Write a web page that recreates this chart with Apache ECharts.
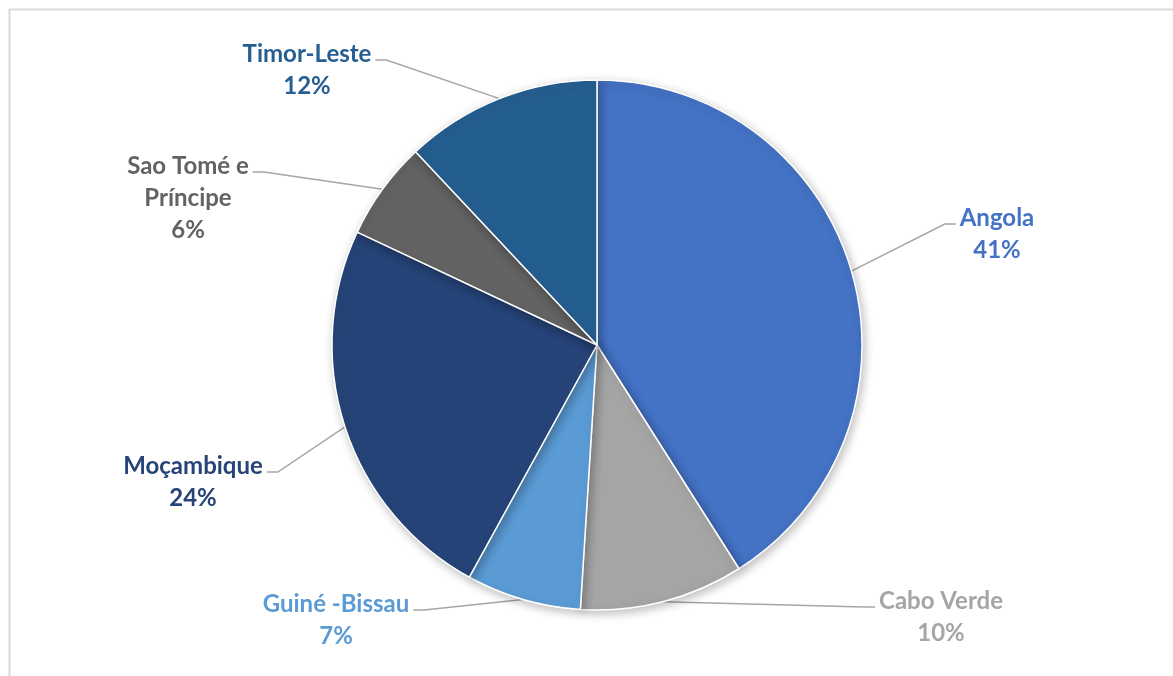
<!DOCTYPE html>
<html>
<head>
<meta charset="utf-8">
<style>
  html, body { margin: 0; padding: 0; background: #ffffff; }
  #chart { width: 1173px; height: 676px; }
</style>
<script src="https://cdn.jsdelivr.net/npm/echarts@6/dist/echarts.min.js"></script>
</head>
<body>
<div id="chart"></div>
<script>
// Share of each country (percent)
const countries = ['Angola', 'Cabo Verde', 'Guiné -Bissau', 'Moçambique', 'Sao Tomé e\nPríncipe', 'Timor-Leste'];
const shares = [41, 10, 7, 24, 6, 12];
const sliceColors = ['#4472C4', '#A5A5A5', '#5B9BD5', '#264478', '#636363', '#255E91'];

// Label block centres, one per slice
const labelSpots = [[997, 234], [941, 617], [336, 620], [193, 482], [188, 198], [307, 70]];
const PIE_CENTER = [597, 345];

const chart = echarts.init(document.getElementById('chart'), null, { renderer: 'canvas' });

chart.setOption({
  animation: false,
  backgroundColor: '#ffffff',
  graphic: [{
    type: 'rect',
    shape: { x: 9.5, y: 9.5, width: 1200, height: 700 },
    style: { fill: 'none', stroke: '#D9D9D9', lineWidth: 2 },
    silent: true
  }],
  series: [{
    type: 'pie',
    center: PIE_CENTER,
    radius: 265,
    startAngle: 90,
    clockwise: true,
    avoidLabelOverlap: false,
    data: countries.map((name, i) => ({
      name: name,
      value: shares[i],
      itemStyle: { color: sliceColors[i] },
      label: { color: sliceColors[i] }
    })),
    itemStyle: {
      borderColor: '#ffffff',
      borderWidth: 1.5,
      shadowBlur: 10,
      shadowColor: 'rgba(0,0,0,0.25)',
      shadowOffsetX: 2,
      shadowOffsetY: 3
    },
    label: {
      show: true,
      position: 'outside',
      formatter: '{b}\n{d}%',
      fontFamily: 'Lato, "Open Sans", sans-serif',
      fontWeight: 'bold',
      fontSize: 24,
      lineHeight: 32,
      align: 'center'
    },
    labelLine: {
      show: true,
      lineStyle: { color: '#A6A6A6', width: 1.5 }
    },
    labelLayout: function (params) {
      const spot = labelSpots[params.dataIndex];
      const w = params.labelRect.width;
      const h = params.labelRect.height;
      const onRight = spot[0] > PIE_CENTER[0];
      const endX = onRight ? spot[0] - w / 2 - 4 : spot[0] + w / 2 + 4;
      const endY = spot[1] - h / 2 + 22;
      const elbowX = onRight ? endX - 11 : endX + 11;
      const start = params.labelLinePoints ? params.labelLinePoints[0] : [endX, endY];
      return {
        x: spot[0],
        y: spot[1],
        align: 'center',
        verticalAlign: 'middle',
        labelLinePoints: [start, [elbowX, endY], [endX, endY]]
      };
    }
  }]
});
</script>
</body>
</html>
